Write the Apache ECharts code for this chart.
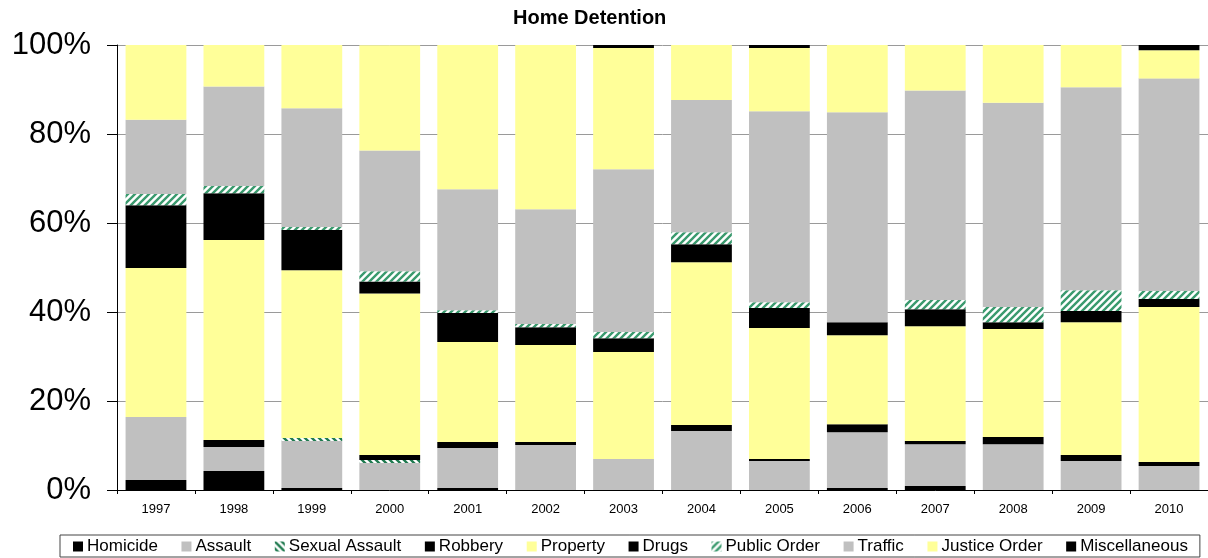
<!DOCTYPE html>
<html>
<head>
<meta charset="utf-8">
<script src="https://cdn.jsdelivr.net/npm/echarts@6/dist/echarts.min.js"></script>
<style>
html,body{margin:0;padding:0;background:#fff;}
#chart{width:1208px;height:558px;}
</style>
</head>
<body>
<div id="chart"></div>
<script>
const years = ['1997','1998','1999','2000','2001','2002','2003','2004','2005','2006','2007','2008','2009','2010'];
const yTicks = [0, 20, 40, 60, 80, 100];
const homicide      = [2.25, 4.27, 0.45, 0,     0.45, 0,     0,     0,    0,     0.45, 0.9,  0,    0,     0];
const assault       = [14.15,5.39, 10.55,6.06,  8.98, 10.1,  6.96,  13.25,6.5,   12.55,9.4,  10.3, 6.5,   5.4];
const sexualAssault = [0,    0,    0.7,  0.68,  0,    0,     0,     0,    0,     0,    0,    0,    0,     0];
const robbery       = [0,    1.57, 0,    1.12,  1.35, 0.68,  0,     1.35, 0.46,  1.8,  0.7,  1.6,  1.36,  0.9];
const property      = [33.5, 44.97,37.7, 36.3,  22.46,21.78, 24.04, 36.6, 29.44, 20.0, 25.8, 24.3, 29.84, 34.8];
const drugs         = [14.1, 10.5, 9.0,  2.7,   6.56, 4.04,  3.1,   4.04, 4.5,   2.9,  3.8,  1.5,  2.5,   1.8];
const publicOrder   = [2.5,  1.6,  0.7,  2.3,   0.6,  0.7,   1.4,   2.7,  1.3,   0,    2.1,  3.4,  4.7,   1.8];
const traffic       = [16.7, 22.4, 26.7, 27.15, 27.2, 25.8,  36.6,  29.7, 42.9,  47.2, 47.1, 45.9, 45.6,  47.8];
const justiceOrder  = [16.8, 9.3,  14.2, 23.65, 32.4, 36.9,  27.2,  12.4, 14.2,  15.1, 10.2, 13.0, 9.5,   6.3];
const miscellaneous = [0,    0,    0,    0,     0,    0,     0.7,   0,    0.7,   0,    0,    0,    0,     1.2];

function hatch(color, forward) {
  const s = 7;
  const c = document.createElement('canvas');
  c.width = s; c.height = s;
  const g = c.getContext('2d');
  g.fillStyle = '#ffffff';
  g.fillRect(0, 0, s, s);
  g.strokeStyle = color;
  g.lineWidth = 2.4;
  g.beginPath();
  if (forward) {
    g.moveTo(-1, s + 1); g.lineTo(s + 1, -1);
    g.moveTo(-1, 1); g.lineTo(1, -1);
    g.moveTo(s - 1, s + 1); g.lineTo(s + 1, s - 1);
  } else {
    g.moveTo(-1, -1); g.lineTo(s + 1, s + 1);
    g.moveTo(s - 1, -1); g.lineTo(s + 1, 1);
    g.moveTo(-1, s - 1); g.lineTo(1, s + 1);
  }
  g.stroke();
  return { image: c, repeat: 'repeat' };
}

const FONT = '"Liberation Sans", Arial, sans-serif';
const black = '#000000', gray = '#c0c0c0', yellow = '#ffff99';

const seriesDefs = [
  ['Homicide', homicide, black],
  ['Assault', assault, gray],
  ['Sexual Assault', sexualAssault, hatch('#1f7a4f', false)],
  ['Robbery', robbery, black],
  ['Property', property, yellow],
  ['Drugs', drugs, black],
  ['Public Order', publicOrder, hatch('#3a9a6e', true)],
  ['Traffic', traffic, gray],
  ['Justice Order', justiceOrder, yellow],
  ['Miscellaneous', miscellaneous, black]
];

const chart = echarts.init(document.getElementById('chart'), null, { renderer: 'canvas' });
chart.setOption({
  animation: false,
  backgroundColor: '#ffffff',
  title: {
    text: 'Home Detention',
    left: 513, top: 8, padding: 0,
    textStyle: { fontFamily: FONT, fontSize: 20, fontWeight: 'bold', color: '#000' }
  },
  grid: { left: 117, top: 45, width: 1096, height: 445, containLabel: false },
  legend: {
    left: 60, top: 535,
    padding: [3, 12, 2, 13],
    borderColor: '#444', borderWidth: 1,
    itemWidth: 10, itemHeight: 10, itemGap: 23.6,
    icon: 'rect',
    textStyle: { fontFamily: FONT, fontSize: 17, color: '#000', padding: [0, 0, 0, -1] },
    data: seriesDefs.map(d => d[0])
  },
  xAxis: {
    type: 'category',
    data: years,
    boundaryGap: true,
    axisLine: { lineStyle: { color: '#000', width: 1 } },
    axisTick: { show: true, length: 4, lineStyle: { color: '#000' } },
    axisLabel: { fontFamily: FONT, fontSize: 13, color: '#000', margin: 13 }
  },
  yAxis: {
    type: 'value',
    min: yTicks[0], max: yTicks[yTicks.length - 1], interval: 20,
    axisLine: { show: true, lineStyle: { color: '#000', width: 1 } },
    axisTick: { show: true, length: 10, lineStyle: { color: '#000' } },
    axisLabel: { fontFamily: FONT, fontSize: 31, color: '#000', margin: 26, formatter: '{value}%' },
    splitLine: { show: true, lineStyle: { color: '#9a9a9a', width: 1 } }
  },
  series: seriesDefs.map(d => ({
    name: d[0],
    type: 'bar',
    stack: 'total',
    data: d[1],
    barCategoryGap: '22%',
    itemStyle: { color: d[2] },
    emphasis: { disabled: true }
  }))
});
</script>
</body>
</html>
